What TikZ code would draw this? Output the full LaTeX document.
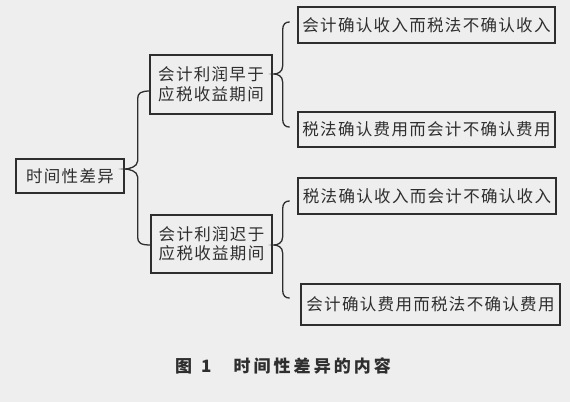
\documentclass[tikz,border=0pt]{standalone}
\usepackage{fontspec}
\usetikzlibrary{calc}
\newfontfamily\cjk[LetterSpace=8]{Noto Sans CJK SC}
\newfontfamily\cjkcap[LetterSpace=18]{Noto Sans CJK SC}
\definecolor{bg}{HTML}{EEEEEE}
\definecolor{ink}{HTML}{2E2E2E}
\newcommand{\mybrace}[4]{%
  \draw[conn] let \p1=(#1), \p2=(#2), \p3=(#3) in
   (\p1) .. controls (\x2+#4+3pt,\y1) and (\x2+#4,\y1-2pt) .. (\x2+#4,\y1-8pt)
   -- (\x2+#4,\y2+8pt) .. controls (\x2+#4,\y2+2pt) and (\x2+4pt,\y2) .. (\p2)
   .. controls (\x2+4pt,\y2) and (\x2+#4,\y2-2pt) .. (\x2+#4,\y2-8pt)
   -- (\x2+#4,\y3+8pt) .. controls (\x2+#4,\y3+2pt) and (\x2+#4+3pt,\y3) .. (\p3);}
\begin{document}
\begin{tikzpicture}[x=1pt,y=-1pt,
  boxnode/.style={draw=ink,line width=1.3pt,inner sep=0pt,text=ink,
    font=\cjk\fontsize{16.5}{19.5}\selectfont,align=center},
  conn/.style={draw=ink,line width=1.3pt,line cap=round}]
\fill[bg] (0,0) rectangle (570,402);
\useasboundingbox (0,0) rectangle (570,402);
% nodes
\node[boxnode,minimum width=108pt,minimum height=34pt] (b1) at (70,176) {时间性差异};
\node[boxnode,minimum width=122pt,minimum height=59pt] (b2) at (211,84.5) {会计利润早于\\应税收益期间};
\node[boxnode,minimum width=121pt,minimum height=58pt] (b3) at (211.5,244) {会计利润迟于\\应税收益期间};
\node[boxnode,minimum width=257pt,minimum height=36pt] (bA) at (426.5,25) {会计确认收入而税法不确认收入};
\node[boxnode,minimum width=257pt,minimum height=35pt] (bB) at (426.5,129.5) {税法确认费用而会计不确认费用};
\node[boxnode,minimum width=258pt,minimum height=36pt] (bC) at (427,196) {税法确认收入而会计不确认收入};
\node[boxnode,minimum width=259pt,minimum height=41pt] (bD) at (430.5,304.5) {会计确认费用而税法不确认费用};
\node[anchor=west,inner sep=0pt,text=ink,font=\cjkcap\bfseries\fontsize{17}{20}\selectfont] (cap) at (175,366) {图\hspace{9pt}1\hspace{22pt}时间性差异的内容};
% brace anchor points
\coordinate (c1) at ($(b1.east)+(0,-7)$);
\coordinate (t1) at ($(b2.west)+(1,6.5)$);
\coordinate (e1) at ($(b3.west)+(0.5,1)$);
\coordinate (c2) at ($(b2.east)+(1,-10.5)$);
\coordinate (t2) at ($(bA.west)+(-8,-3)$);
\coordinate (e2) at ($(bB.west)+(-8,-2.5)$);
\coordinate (c3) at ($(b3.east)+(1,1)$);
\coordinate (t3) at ($(bC.west)+(-8,5)$);
\coordinate (e3) at ($(bD.west)+(-11,-6.5)$);
% braces
\mybrace{t1}{c1}{e1}{13pt}
\mybrace{t2}{c2}{e2}{9pt}
\mybrace{t3}{c3}{e3}{9pt}
\end{tikzpicture}
\end{document}
